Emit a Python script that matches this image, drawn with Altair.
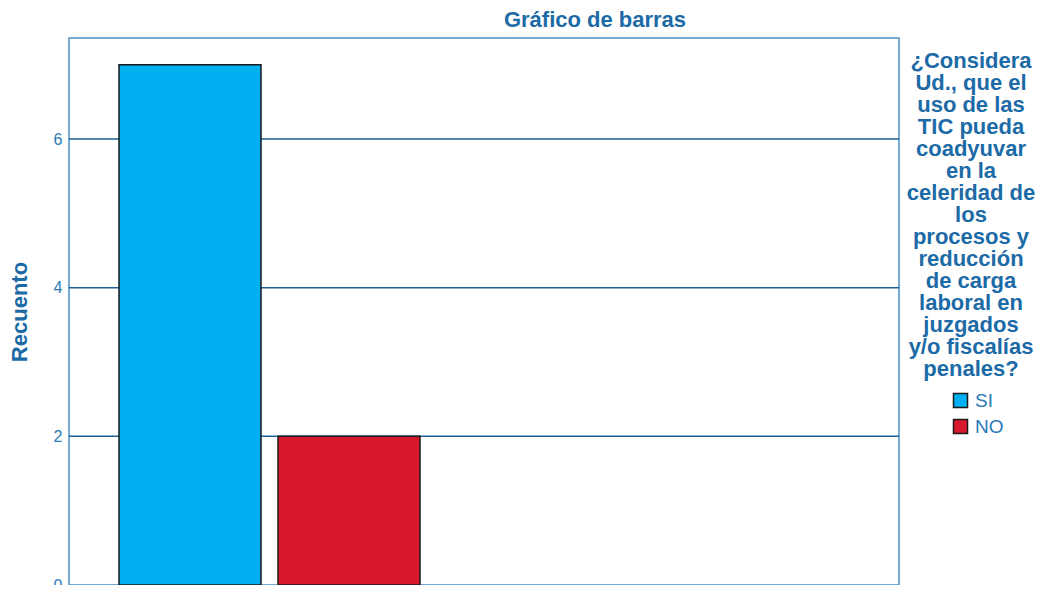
import altair as alt
import pandas as pd

categories = ["SI", "NO"]
counts = [7, 2]
colors = ["#00b0f0", "#d7182d"]
legend_title = ["¿Considera", "Ud., que el", "uso de las", "TIC pueda", "coadyuvar",
                "en la", "celeridad de", "los", "procesos y", "reducción",
                "de carga", "laboral en", "juzgados", "y/o fiscalías", "penales?"]
y_ticks = [0, 2, 4, 6]

df = pd.DataFrame({"resp": categories, "n": counts})
grid_df = pd.DataFrame({"v": [t for t in y_ticks if t > 0]})

FONT = "Liberation Sans"
TXT = "#1c6aa6"
YDOM = [0, 7.36]

y_axis = alt.Axis(title="Recuento", values=y_ticks, grid=False,
                  domain=False, ticks=False, labelPadding=7,
                  labelFontSize=16, labelColor="#2a7ab8", labelFont=FONT,
                  titleFont=FONT, titleFontSize=22, titleFontWeight="bold",
                  titleColor=TXT, titlePadding=22)

grid = alt.Chart(grid_df).mark_rule(color="#1f5f96", strokeWidth=1.5).encode(
    y=alt.Y("v:Q", scale=alt.Scale(domain=YDOM, nice=False), axis=y_axis, title="Recuento")
)

bars = alt.Chart(df).mark_bar(stroke="#1a1a1a", strokeWidth=1.5).encode(
    x=alt.X("resp:N", sort=categories,
            scale=alt.Scale(domain=categories, range=[50, 351], paddingInner=0.107, paddingOuter=0),
            axis=alt.Axis(title=None, labels=False, ticks=False, domain=False)),
    y=alt.Y("n:Q", scale=alt.Scale(domain=YDOM, nice=False), axis=y_axis, title="Recuento"),
    color=alt.Color("resp:N", sort=categories,
                    scale=alt.Scale(domain=categories, range=colors),
                    legend=alt.Legend(title=legend_title, orient="none", legendX=838, legendY=13,
                                      titleAlign="center", titleAnchor="middle",
                                      titleFont=FONT, titleFontSize=22, titleFontWeight="bold",
                                      titleColor=TXT, titleLineHeight=22, titlePadding=10,
                                      symbolType="square", symbolSize=196,
                                      symbolStrokeColor="#1a1a1a", symbolStrokeWidth=1.5,
                                      symbolOffset=12, labelOffset=5,
                                      labelFont=FONT, labelFontSize=19, labelColor="#2a7ab8",
                                      rowPadding=5, padding=0)),
)

chart = alt.layer(grid, bars).properties(
    width=830, height=547,
    title=alt.TitleParams("Gráfico de barras", font=FONT, fontSize=22, fontWeight="bold",
                          color=TXT, anchor="middle", dx=111, offset=6),
    padding={"left": 61, "top": 30, "right": 137, "bottom": 0},
    autosize=alt.AutoSizeParams(type="none"),
).configure_view(stroke="#4a8fc4", strokeWidth=1.5)

chart.save("out.html", embed_options={"renderer": "svg", "actions": False})
